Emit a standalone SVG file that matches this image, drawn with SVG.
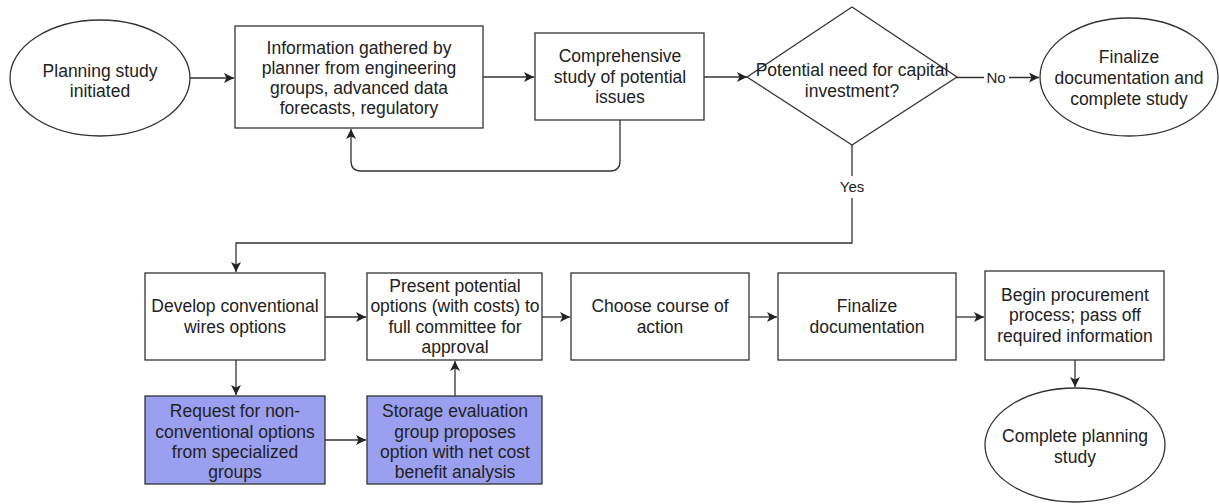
<svg xmlns="http://www.w3.org/2000/svg" width="1219" height="504" viewBox="0 0 1219 504">
<defs>
<style>
.n{fill:#fff;stroke:#333;stroke-width:1.3}
.b{fill:#9a9ff0;stroke:#333;stroke-width:1.3}
.t{font-family:"Liberation Sans",Arial,sans-serif;font-size:17.5px;fill:#222;text-anchor:middle}
.l{font-family:"Liberation Sans",Arial,sans-serif;font-size:15px;fill:#222;text-anchor:middle}
.c{fill:none;stroke:#333;stroke-width:1.3}
</style>
<marker id="a" viewBox="0 0 10 10" refX="10" refY="5" markerWidth="10" markerHeight="10" markerUnits="userSpaceOnUse" orient="auto">
<path d="M0,0 L10,5 L0,10 L2.5,5 Z" fill="#222"/>
</marker>
</defs>
<rect width="1219" height="504" fill="#fff"/>
<g id="connectors">
<path class="c" d="M190,78 H234" marker-end="url(#a)"/>
<path class="c" d="M483,77 H534" marker-end="url(#a)"/>
<path class="c" d="M620,120 V161 Q620,171 610,171 H361 Q351,171 351,161 V129" marker-end="url(#a)"/>
<path class="c" d="M704,77 H747" marker-end="url(#a)"/>
<path class="c" d="M956,77.5 H984 M1009,77.5 H1039" marker-end="url(#a)"/>
<path class="c" d="M852,145 V176 M852,198 V243 H236 V272" marker-end="url(#a)"/>
<path class="c" d="M325,317 H366" marker-end="url(#a)"/>
<path class="c" d="M542,317 H570" marker-end="url(#a)"/>
<path class="c" d="M749,317 H777" marker-end="url(#a)"/>
<path class="c" d="M956,317 H984" marker-end="url(#a)"/>
<path class="c" d="M1075,360 V387" marker-end="url(#a)"/>
<path class="c" d="M236,360 V395" marker-end="url(#a)"/>
<path class="c" d="M325,440 H366" marker-end="url(#a)"/>
<path class="c" d="M455,396 V361" marker-end="url(#a)"/>
<text class="l" x="996" y="83">No</text>
<text class="l" x="852" y="192">Yes</text>
</g>
<g id="start">
<ellipse class="n" cx="100" cy="78" rx="90" ry="58"/>
<text class="t" x="100" y="77">Planning study</text>
<text class="t" x="100" y="97">initiated</text>
</g>
<g id="gather">
<rect class="n" x="235" y="26" width="248" height="102"/>
<text class="t" x="359" y="54">Information gathered by</text>
<text class="t" x="359" y="74">planner from engineering</text>
<text class="t" x="359" y="94">groups, advanced data</text>
<text class="t" x="359" y="114">forecasts, regulatory</text>
</g>
<g id="study">
<rect class="n" x="535" y="33" width="169" height="87"/>
<text class="t" x="620" y="62">Comprehensive</text>
<text class="t" x="620" y="83">study of potential</text>
<text class="t" x="620" y="103">issues</text>
</g>
<g id="decision">
<polygon class="n" points="852,7 957,77 852,145 747,77"/>
<text class="t" x="852" y="76">Potential need for capital</text>
<text class="t" x="852" y="97">investment?</text>
</g>
<g id="finalize-study">
<ellipse class="n" cx="1129" cy="77" rx="89" ry="59"/>
<text class="t" x="1129" y="63">Finalize</text>
<text class="t" x="1129" y="84">documentation and</text>
<text class="t" x="1129" y="105">complete study</text>
</g>
<g id="develop">
<rect class="n" x="145" y="273" width="180" height="87"/>
<text class="t" x="235" y="312">Develop conventional</text>
<text class="t" x="235" y="333">wires options</text>
</g>
<g id="present">
<rect class="n" x="367" y="273" width="175" height="87"/>
<text class="t" x="455" y="292">Present potential</text>
<text class="t" x="455" y="312">options (with costs) to</text>
<text class="t" x="455" y="333">full committee for</text>
<text class="t" x="455" y="353">approval</text>
</g>
<g id="choose">
<rect class="n" x="571" y="273" width="178" height="87"/>
<text class="t" x="660" y="312">Choose course of</text>
<text class="t" x="660" y="333">action</text>
</g>
<g id="finalize-doc">
<rect class="n" x="778" y="273" width="178" height="87"/>
<text class="t" x="867" y="312">Finalize</text>
<text class="t" x="867" y="333">documentation</text>
</g>
<g id="procure">
<rect class="n" x="985" y="271" width="179" height="89"/>
<text class="t" x="1075" y="301">Begin procurement</text>
<text class="t" x="1075" y="321">process; pass off</text>
<text class="t" x="1075" y="342">required information</text>
</g>
<g id="complete">
<ellipse class="n" cx="1075" cy="445" rx="90" ry="57"/>
<text class="t" x="1075" y="442">Complete planning</text>
<text class="t" x="1075" y="463">study</text>
</g>
<g id="request">
<rect class="b" x="145" y="396" width="180" height="88"/>
<text class="t" x="235" y="417">Request for non-</text>
<text class="t" x="235" y="438">conventional options</text>
<text class="t" x="235" y="458">from specialized</text>
<text class="t" x="235" y="478">groups</text>
</g>
<g id="storage">
<rect class="b" x="367" y="396" width="175" height="88"/>
<text class="t" x="455" y="417">Storage evaluation</text>
<text class="t" x="455" y="438">group proposes</text>
<text class="t" x="455" y="458">option with net cost</text>
<text class="t" x="455" y="478">benefit analysis</text>
</g>
</svg>
